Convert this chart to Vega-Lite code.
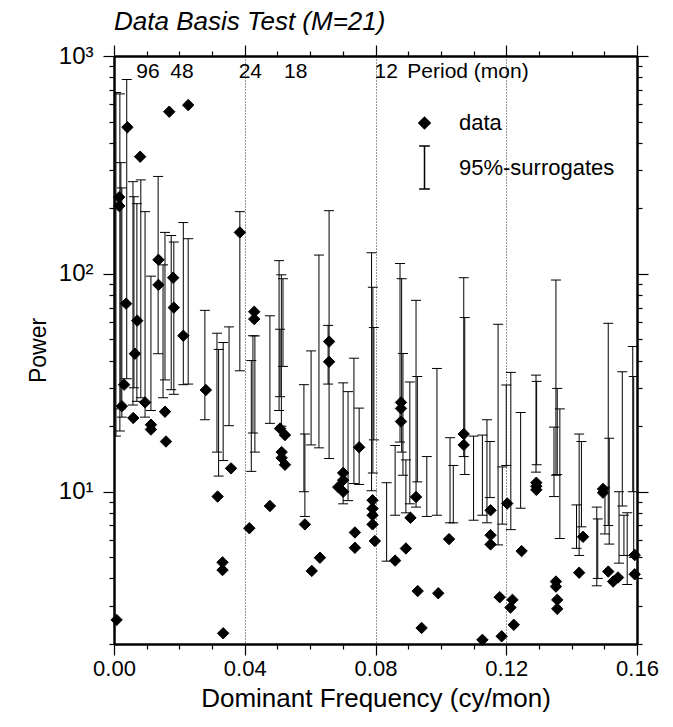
{
  "$schema": "https://vega.github.io/schema/vega-lite/v6.json",
  "width": 523,
  "height": 588,
  "autosize": {"type": "none"},
  "padding": {"left": 114, "top": 56, "right": 36, "bottom": 83},
  "background": "white",
  "title": {"text": "Data Basis Test (M=21)", "anchor": "start", "frame": "group", "font": "Liberation Sans", "fontSize": 26, "fontStyle": "italic", "fontWeight": "normal", "color": "black", "offset": 9},
  "config": {"view": {"stroke": null}, "font": "Liberation Sans"},
  "datasets": {
    "bars": [
      {"f":0.0006,"lo":18,"hi":680},{"f":0.0018,"lo":19,"hi":670},{"f":0.0021,"lo":24,"hi":324},{"f":0.0024,"lo":22,"hi":248},
      {"f":0.0039,"lo":33,"hi":780},{"f":0.0058,"lo":25,"hi":265},{"f":0.0061,"lo":30,"hi":226},{"f":0.0070,"lo":26,"hi":210},
      {"f":0.0082,"lo":27,"hi":270},{"f":0.0095,"lo":22,"hi":193},{"f":0.0113,"lo":23.6,"hi":97.6},{"f":0.0135,"lo":43,"hi":280},
      {"f":0.0150,"lo":27,"hi":110},{"f":0.0156,"lo":32.6,"hi":155},{"f":0.0175,"lo":29.4,"hi":150},{"f":0.0183,"lo":28,"hi":140},
      {"f":0.0212,"lo":31,"hi":172},{"f":0.0227,"lo":31.2,"hi":145},{"f":0.0278,"lo":21.4,"hi":68},{"f":0.0315,"lo":15.2,"hi":53.4},
      {"f":0.0320,"lo":11.8,"hi":45},{"f":0.0334,"lo":13.9,"hi":48.4},{"f":0.0352,"lo":20.1,"hi":57.1},{"f":0.0385,"lo":35.9,"hi":193},
      {"f":0.0420,"lo":12.4,"hi":40},{"f":0.0425,"lo":18.6,"hi":52},{"f":0.0431,"lo":15.2,"hi":51.9},{"f":0.0477,"lo":20.6,"hi":64.2},
      {"f":0.0505,"lo":23.6,"hi":115},{"f":0.0508,"lo":27.3,"hi":55.7},{"f":0.0512,"lo":20,"hi":99},{"f":0.0517,"lo":37.6,"hi":95},
      {"f":0.0581,"lo":10,"hi":31},{"f":0.0584,"lo":7.7,"hi":18.4},{"f":0.0603,"lo":16.4,"hi":44.3},{"f":0.0627,"lo":15.9,"hi":122},
      {"f":0.0655,"lo":31.2,"hi":58},{"f":0.0658,"lo":14.2,"hi":195},{"f":0.0701,"lo":8.8,"hi":31.6},{"f":0.0716,"lo":9.1,"hi":28.8},
      {"f":0.0734,"lo":10.9,"hi":41},{"f":0.0750,"lo":10.8,"hi":24.2},{"f":0.0788,"lo":10.1,"hi":125},{"f":0.0792,"lo":12.2,"hi":86.9},
      {"f":0.0795,"lo":17.3,"hi":56.7},{"f":0.0834,"lo":4.8,"hi":11},{"f":0.0860,"lo":7.8,"hi":16.3},{"f":0.0875,"lo":16.9,"hi":111.6},
      {"f":0.0880,"lo":15.2,"hi":95},{"f":0.0884,"lo":11.9,"hi":43.1},{"f":0.0893,"lo":8,"hi":14},{"f":0.0905,"lo":8.8,"hi":31.9},
      {"f":0.0924,"lo":8.5,"hi":75.6},{"f":0.0928,"lo":11.1,"hi":33.8},{"f":0.0957,"lo":7.7,"hi":14.5},{"f":0.0988,"lo":7.8,"hi":36.8},
      {"f":0.1028,"lo":7.2,"hi":17.7},{"f":0.1038,"lo":7.2,"hi":13.2},{"f":0.1070,"lo":14.5,"hi":96},{"f":0.1073,"lo":12,"hi":63},
      {"f":0.1100,"lo":7.4,"hi":18},{"f":0.1127,"lo":7.8,"hi":18.2},{"f":0.1141,"lo":7.2,"hi":21.4},{"f":0.1150,"lo":9.4,"hi":17},
      {"f":0.1175,"lo":5.7,"hi":58.7},{"f":0.1188,"lo":7.1,"hi":13},{"f":0.1200,"lo":13.2,"hi":30.9},{"f":0.1214,"lo":6.7,"hi":35.3},
      {"f":0.1244,"lo":8.4,"hi":23.1},{"f":0.1291,"lo":12.3,"hi":34.3},{"f":0.1293,"lo":13.3,"hi":32.1},{"f":0.1346,"lo":9.5,"hi":19.8},
      {"f":0.1352,"lo":11.9,"hi":93.7},{"f":0.1356,"lo":12,"hi":29.8},{"f":0.1364,"lo":6.1,"hi":24},{"f":0.1415,"lo":5.5,"hi":8.7},
      {"f":0.1423,"lo":5.1,"hi":18.4},{"f":0.1430,"lo":6.9,"hi":17},{"f":0.1477,"lo":3.7,"hi":8.5},{"f":0.1480,"lo":4,"hi":7.5},
      {"f":0.1502,"lo":6.4,"hi":10.5},{"f":0.1512,"lo":7,"hi":59.3},{"f":0.1515,"lo":5.75,"hi":17.6},{"f":0.1545,"lo":4.7,"hi":10},
      {"f":0.1555,"lo":8.6,"hi":35.5},{"f":0.1560,"lo":5.1,"hi":7.8},{"f":0.1570,"lo":3.75,"hi":8},{"f":0.1587,"lo":10,"hi":46.4},
      {"f":0.1590,"lo":5,"hi":33.8}
    ],
    "pts": [
      {"f":0.0041,"p":471,"series":"data"},{"f":0.0080,"p":345,"series":"data"},{"f":0.0169,"p":555,"series":"data"},{"f":0.0227,"p":595,"series":"data"},
      {"f":0.0016,"p":225,"series":"data"},{"f":0.0016,"p":205,"series":"data"},{"f":0.0385,"p":155,"series":"data"},{"f":0.0136,"p":116,"series":"data"},
      {"f":0.0181,"p":96,"series":"data"},{"f":0.0136,"p":89,"series":"data"},{"f":0.0037,"p":73,"series":"data"},{"f":0.0183,"p":70,"series":"data"},
      {"f":0.0071,"p":61,"series":"data"},{"f":0.0212,"p":52,"series":"data"},{"f":0.0429,"p":67,"series":"data"},{"f":0.0429,"p":62,"series":"data"},
      {"f":0.0064,"p":43,"series":"data"},{"f":0.0031,"p":31,"series":"data"},{"f":0.0281,"p":29.3,"series":"data"},{"f":0.0024,"p":24.7,"series":"data"},
      {"f":0.0095,"p":25.7,"series":"data"},{"f":0.0059,"p":21.8,"series":"data"},{"f":0.0156,"p":23.3,"series":"data"},{"f":0.0113,"p":20.3,"series":"data"},
      {"f":0.0113,"p":19.3,"series":"data"},{"f":0.0159,"p":17,"series":"data"},{"f":0.0508,"p":19.5,"series":"data"},{"f":0.0523,"p":18.2,"series":"data"},
      {"f":0.0513,"p":15.2,"series":"data"},{"f":0.0513,"p":14.3,"series":"data"},{"f":0.0523,"p":13.3,"series":"data"},{"f":0.0358,"p":12.8,"series":"data"},
      {"f":0.0317,"p":9.5,"series":"data"},{"f":0.0477,"p":8.6,"series":"data"},{"f":0.0414,"p":6.8,"series":"data"},{"f":0.0332,"p":4.74,"series":"data"},
      {"f":0.0332,"p":4.37,"series":"data"},{"f":0.0008,"p":2.58,"series":"data"},{"f":0.0334,"p":2.24,"series":"data"},{"f":0.0658,"p":48.9,"series":"data"},
      {"f":0.0658,"p":39.5,"series":"data"},{"f":0.0878,"p":25.7,"series":"data"},{"f":0.0878,"p":24.1,"series":"data"},{"f":0.0878,"p":21,"series":"data"},
      {"f":0.1070,"p":18.4,"series":"data"},{"f":0.1070,"p":16.4,"series":"data"},{"f":0.0750,"p":16,"series":"data"},{"f":0.0701,"p":12.2,"series":"data"},
      {"f":0.0701,"p":11.3,"series":"data"},{"f":0.0686,"p":10.5,"series":"data"},{"f":0.0701,"p":10,"series":"data"},{"f":0.0791,"p":9.14,"series":"data"},
      {"f":0.0791,"p":8.37,"series":"data"},{"f":0.0791,"p":7.8,"series":"data"},{"f":0.0791,"p":7.08,"series":"data"},{"f":0.0798,"p":5.94,"series":"data"},
      {"f":0.0584,"p":7.08,"series":"data"},{"f":0.0737,"p":6.5,"series":"data"},{"f":0.0737,"p":5.53,"series":"data"},{"f":0.0630,"p":4.98,"series":"data"},
      {"f":0.0605,"p":4.33,"series":"data"},{"f":0.0907,"p":7.59,"series":"data"},{"f":0.0924,"p":9.46,"series":"data"},{"f":0.0893,"p":5.49,"series":"data"},
      {"f":0.0860,"p":4.83,"series":"data"},{"f":0.0929,"p":3.5,"series":"data"},{"f":0.0992,"p":3.42,"series":"data"},{"f":0.0941,"p":2.37,"series":"data"},
      {"f":0.1025,"p":6.06,"series":"data"},{"f":0.1127,"p":2.09,"series":"data"},{"f":0.1152,"p":8.22,"series":"data"},{"f":0.1152,"p":6.32,"series":"data"},
      {"f":0.1152,"p":5.73,"series":"data"},{"f":0.1203,"p":8.83,"series":"data"},{"f":0.1247,"p":5.34,"series":"data"},{"f":0.1180,"p":3.28,"series":"data"},
      {"f":0.1219,"p":3.19,"series":"data"},{"f":0.1213,"p":2.94,"series":"data"},{"f":0.1223,"p":2.45,"series":"data"},{"f":0.1186,"p":2.17,"series":"data"},
      {"f":0.1292,"p":11,"series":"data"},{"f":0.1292,"p":10.6,"series":"data"},{"f":0.1292,"p":10.2,"series":"data"},{"f":0.1352,"p":3.87,"series":"data"},
      {"f":0.1352,"p":3.67,"series":"data"},{"f":0.1356,"p":3.19,"series":"data"},{"f":0.1356,"p":2.9,"series":"data"},{"f":0.1423,"p":4.25,"series":"data"},
      {"f":0.1435,"p":6.21,"series":"data"},{"f":0.1496,"p":10.3,"series":"data"},{"f":0.1496,"p":9.9,"series":"data"},{"f":0.1512,"p":4.3,"series":"data"},
      {"f":0.1527,"p":3.87,"series":"data"},{"f":0.1542,"p":4.04,"series":"data"},{"f":0.1593,"p":5.12,"series":"data"},{"f":0.1593,"p":4.18,"series":"data"}
    ],
    "periods": [
      {"label":"96","freq":0.0104},{"label":"48","freq":0.0208},{"label":"24","freq":0.0417},{"label":"18","freq":0.0556},{"label":"12","freq":0.0833}
    ],
    "periodTitle": [{"label":"Period (mon)","freq":0.0833}]
  },
  "layer": [
    {
      "data": {"name": "bars"},
      "mark": {"type": "rule", "color": "black", "strokeWidth": 1, "clip": true},
      "encoding": {
        "x": {"field": "f", "type": "quantitative",
          "scale": {"domain": [0, 0.16], "nice": false, "zero": false},
          "axis": {"orient": "bottom", "title": "Dominant Frequency (cy/mon)",
            "values": [0,0.01,0.02,0.03,0.04,0.05,0.06,0.07,0.08,0.09,0.1,0.11,0.12,0.13,0.14,0.15,0.16],
            "labelExpr": "abs(datum.value*25 - round(datum.value*25)) < 0.001 ? format(datum.value, '.2f') : ''",
            "labelFont": "Liberation Sans", "labelFontSize": 22, "labelColor": "black", "labelPadding": 3, "labelFlush": false, "labelOverlap": false,
            "titleFont": "Liberation Sans", "titleFontSize": 26, "titleFontWeight": "normal", "titleColor": "black", "titlePadding": 6,
            "domainColor": "black", "domainWidth": 2.5, "tickColor": "black", "tickWidth": 1.2,
            "tickSize": {"condition": {"test": "abs(datum.value*25 - round(datum.value*25)) < 0.001", "value": 11}, "value": 5},
            "grid": true, "gridColor": "#333", "gridWidth": 1, "gridDash": [1, 2],
            "gridOpacity": {"condition": {"test": "abs(datum.value*25 - round(datum.value*25)) < 0.001 && datum.value > 0.001 && datum.value < 0.159", "value": 1}, "value": 0}}},
        "y": {"field": "lo", "type": "quantitative",
          "scale": {"type": "log", "domain": [2, 1000], "nice": false},
          "axis": {"orient": "left", "title": "Power",
            "values": [2,3,4,5,6,7,8,9,10,20,30,40,50,60,70,80,90,100,200,300,400,500,600,700,800,900,1000],
            "labelExpr": "datum.value == 1000 ? '10³' : datum.value == 100 ? '10²' : datum.value == 10 ? '10¹' : ''",
            "labelFont": "Liberation Sans", "labelFontSize": 24, "labelColor": "black", "labelPadding": 10, "labelOverlap": false, "labelFlush": false,
            "titleFont": "Liberation Sans", "titleFontSize": 23, "titleFontWeight": "normal", "titleColor": "black", "titlePadding": 8,
            "domainColor": "black", "domainWidth": 2.5, "tickColor": "black", "tickWidth": 1.2,
            "tickSize": {"condition": {"test": "datum.value == 10 || datum.value == 100 || datum.value == 1000", "value": 11}, "value": 5},
            "grid": false}},
        "y2": {"field": "hi"}
      }
    },
    {
      "data": {"name": "bars"},
      "mark": {"type": "tick", "orient": "horizontal", "size": 10, "thickness": 1, "color": "black", "opacity": 1, "clip": true},
      "encoding": {
        "x": {"field": "f", "type": "quantitative", "axis": null},
        "y": {"field": "lo", "type": "quantitative", "axis": null}
      }
    },
    {
      "data": {"name": "bars"},
      "mark": {"type": "tick", "orient": "horizontal", "size": 10, "thickness": 1, "color": "black", "opacity": 1, "clip": true},
      "encoding": {
        "x": {"field": "f", "type": "quantitative", "axis": null},
        "y": {"field": "hi", "type": "quantitative", "axis": null}
      }
    },
    {
      "data": {"name": "pts"},
      "mark": {"type": "point", "filled": true, "fill": "black", "stroke": "black", "strokeWidth": 1, "opacity": 1},
      "encoding": {
        "x": {"field": "f", "type": "quantitative",
          "axis": {"orient": "top", "title": null, "labels": false,
            "values": [0,0.01,0.02,0.03,0.04,0.05,0.06,0.07,0.08,0.09,0.1,0.11,0.12,0.13,0.14,0.15,0.16],
            "domainColor": "black", "domainWidth": 2.5, "tickColor": "black", "tickWidth": 1.2,
            "tickSize": {"condition": {"test": "abs(datum.value*25 - round(datum.value*25)) < 0.001", "value": 11}, "value": 5},
            "grid": false}},
        "y": {"field": "p", "type": "quantitative",
          "axis": {"orient": "right", "title": null, "labels": false,
            "values": [2,3,4,5,6,7,8,9,10,20,30,40,50,60,70,80,90,100,200,300,400,500,600,700,800,900,1000],
            "domainColor": "black", "domainWidth": 2.5, "tickColor": "black", "tickWidth": 1.2,
            "tickSize": {"condition": {"test": "datum.value == 10 || datum.value == 100 || datum.value == 1000", "value": 11}, "value": 5},
            "grid": false}},
        "shape": {"field": "series", "type": "nominal",
          "scale": {"domain": ["data", "95%-surrogates"], "range": ["diamond", "M0,-1L0,1M-0.25,-1L0.25,-1M-0.25,1L0.25,1"]},
          "legend": {"title": null, "orient": "none", "legendX": 288, "legendY": 56, "padding": 0, "labelFont": "Liberation Sans", "labelFontSize": 22, "labelColor": "black", "labelOffset": 12, "rowPadding": 8,
            "encode": {"symbols": {"update": {"stroke": {"value": "black"}, "fill": {"value": "black"}, "strokeWidth": {"value": 1}, "opacity": {"value": 1}}}}}},
        "size": {"field": "series", "type": "nominal",
          "scale": {"domain": ["data", "95%-surrogates"], "range": [130, 1850]},
          "legend": {"title": null, "orient": "none", "legendX": 288, "legendY": 56, "padding": 0, "labelFont": "Liberation Sans", "labelFontSize": 22, "labelColor": "black", "labelOffset": 12, "rowPadding": 8,
            "encode": {"symbols": {"update": {"stroke": {"value": "black"}, "fill": {"value": "black"}, "strokeWidth": {"value": 1}, "opacity": {"value": 1}}}}}}
      }
    },
    {
      "data": {"name": "periods"},
      "mark": {"type": "text", "font": "Liberation Sans", "fontSize": 21, "color": "black", "align": "center", "baseline": "middle"},
      "encoding": {
        "x": {"field": "freq", "type": "quantitative", "axis": null},
        "y": {"datum": 846, "type": "quantitative", "axis": null},
        "text": {"field": "label"}
      }
    },
    {
      "data": {"name": "periodTitle"},
      "mark": {"type": "text", "font": "Liberation Sans", "fontSize": 21, "color": "black", "align": "left", "baseline": "middle", "dx": 21},
      "encoding": {
        "x": {"field": "freq", "type": "quantitative", "axis": null},
        "y": {"datum": 846, "type": "quantitative", "axis": null},
        "text": {"field": "label"}
      }
    }
  ],
  "resolve": {"axis": {"x": "independent", "y": "independent"}}
}
